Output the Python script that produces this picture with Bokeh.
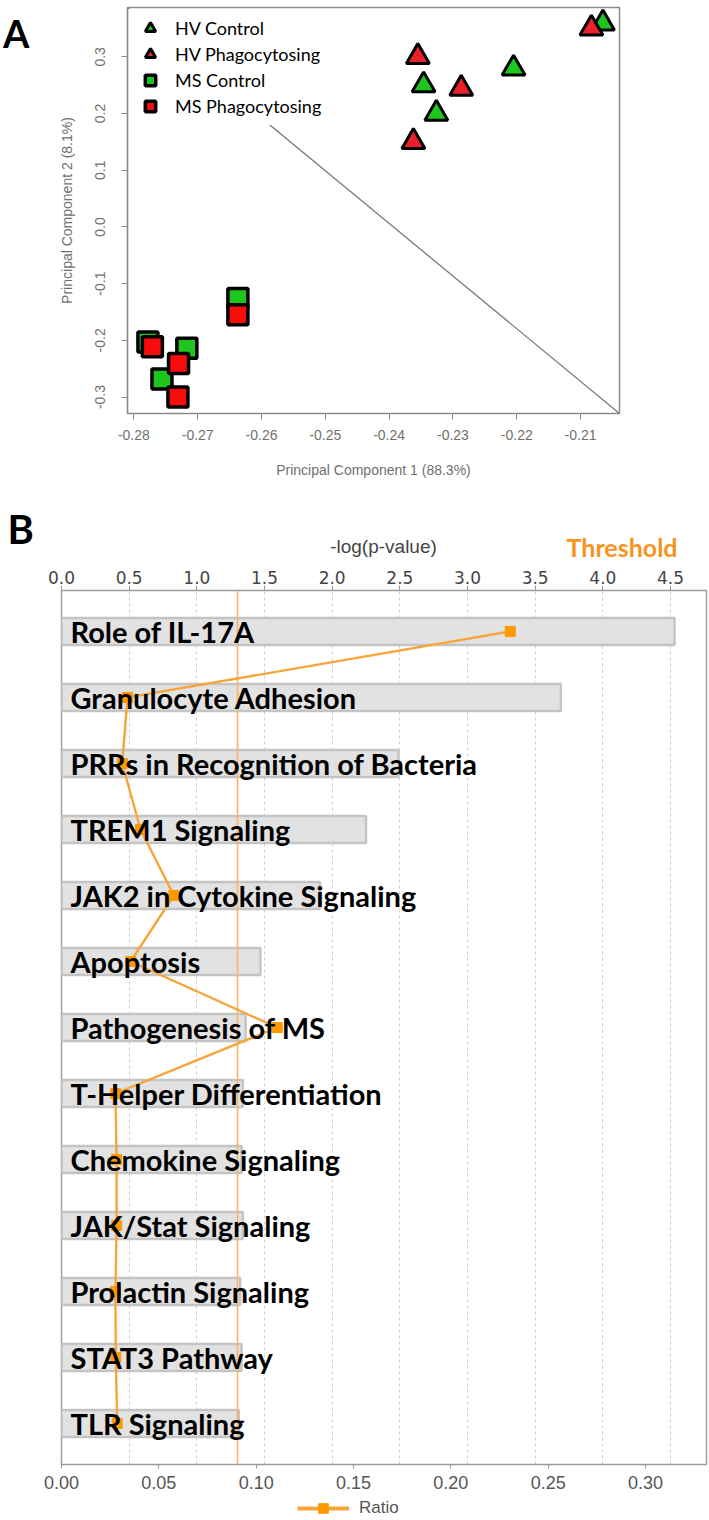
import math
import numpy as np
from bokeh.plotting import figure
from bokeh.models import (Range1d, FactorRange, LinearAxis, SingleIntervalTicker, FixedTicker,
                          NumeralTickFormatter, Legend, LegendItem, Label)
from bokeh.core.properties import value
from bokeh.embed import file_html
from bokeh.resources import INLINE

# ---------------- Panel A data (PCA) ----------------
hv_control_pc1 = [-0.2065, -0.2205, -0.2346, -0.2326]
hv_control_pc2 = [0.359, 0.2795, 0.250, 0.200]
hv_phago_pc1 = [-0.2083, -0.2355, -0.2287, -0.2362]
hv_phago_pc2 = [0.350, 0.300, 0.244, 0.150]
ms_control_pc1 = [-0.2778, -0.2637, -0.2717, -0.2756]
ms_control_pc2 = [-0.203, -0.126, -0.214, -0.268]
ms_phago_pc1 = [-0.2771, -0.2637, -0.2730, -0.2731]
ms_phago_pc2 = [-0.2115, -0.155, -0.241, -0.300]
pc1_limits = [-0.281, -0.2039]
pc2_limits = [-0.329, 0.387]
group_labels = ["HV Control", "HV Phagocytosing", "MS Control", "MS Phagocytosing"]

# ---------------- Panel B data (pathways) ----------------
pathways = ["Role of IL-17A", "Granulocyte Adhesion", "PRRs in Recognition of Bacteria",
            "TREM1 Signaling", "JAK2 in Cytokine Signaling", "Apoptosis",
            "Pathogenesis of MS", "T-Helper Differentiation", "Chemokine Signaling",
            "JAK/Stat Signaling", "Prolactin Signaling", "STAT3 Pathway", "TLR Signaling"]
neg_log_p = [4.53, 3.69, 2.49, 2.25, 1.91, 1.47, 1.36, 1.34, 1.33, 1.34, 1.32, 1.33, 1.31]
ratio = [0.2305, 0.0339, 0.0312, 0.0406, 0.0577, 0.0355, 0.1108, 0.0277, 0.0283,
         0.0283, 0.0277, 0.0279, 0.0286]
p_threshold = 0.05
threshold = -math.log10(p_threshold)
neg_log_p_limits = [0, 4.766]
ratio_limits = [0, 0.3313]

GREEN = "#1DC71D"
RED_TRI = "#E8212B"
RED_SQ = "#F80C0C"
ORANGE = "#F7941E"
RATIO_LINE = "#F6A53A"
RATIO_MARK = "#FF9900"

# ======================= Panel A =======================
pa = figure(width=709, height=495,
            x_range=Range1d(*pc1_limits), y_range=Range1d(*pc2_limits),
            output_backend="svg", toolbar_location=None,
            min_border_left=127, min_border_right=90, min_border_top=7, min_border_bottom=82)
pa.grid.visible = False
pa.outline_line_color = "#8A8A8A"
pa.outline_line_width = 1.5
pa.outline_line_alpha = 1.0

for ax in (pa.xaxis[0], pa.yaxis[0]):
    ax.axis_line_color = "#8A8A8A"
    ax.axis_line_width = 1.2
    ax.major_tick_line_color = "#8A8A8A"
    ax.major_tick_out = 6
    ax.major_tick_in = 0
    ax.minor_tick_line_color = None
    ax.major_label_text_font = "Liberation Sans"
    ax.major_label_text_font_size = "14px"
    ax.major_label_text_color = "#707070"
    ax.axis_label_text_font = "Liberation Sans"
    ax.axis_label_text_font_size = "14px"
    ax.axis_label_text_font_style = "normal"
    ax.axis_label_text_color = "#707070"

pa.xaxis.ticker = SingleIntervalTicker(interval=0.01)
pa.xaxis.formatter = NumeralTickFormatter(format="0.00")
pa.xaxis.axis_label = "Principal Component 1 (88.3%)"
pa.xaxis.major_label_standoff = 10
pa.xaxis.axis_label_standoff = 19

pa.yaxis.ticker = SingleIntervalTicker(interval=0.1)
pa.yaxis.formatter = NumeralTickFormatter(format="0.0")
pa.yaxis.axis_label = "Principal Component 2 (8.1%)"
pa.yaxis.major_label_orientation = "vertical"
pa.yaxis.major_label_standoff = 16
pa.yaxis.axis_label_standoff = 18

# panel letter "A" as a label-only axis further out on the left
panel_a_tick = 0.375
a_axis = LinearAxis(ticker=FixedTicker(ticks=[panel_a_tick]),
                    major_label_overrides={panel_a_tick: "A"},
                    axis_line_color=None, major_tick_line_color=None,
                    minor_tick_line_color=None, major_tick_out=0, major_tick_in=0,
                    major_label_standoff=26, major_label_orientation="horizontal",
                    major_label_text_font="Lato", major_label_text_font_style="bold",
                    major_label_text_font_size="38px", major_label_text_color="black")
pa.add_layout(a_axis, "left")

# diagonal line from corner to corner
pa.line(x=pc1_limits, y=pc2_limits[::-1], line_color="#7A7A7A", line_width=1.3)

r_msc = pa.scatter(ms_control_pc1, ms_control_pc2, marker="square", size=20,
                   fill_color=GREEN, line_color="black", line_width=3.5)
r_msp = pa.scatter(ms_phago_pc1, ms_phago_pc2, marker="square", size=20,
                   fill_color=RED_SQ, line_color="black", line_width=3.5)
r_hvc = pa.scatter(hv_control_pc1, hv_control_pc2, marker="triangle", size=23,
                   fill_color=GREEN, line_color="black", line_width=3)
r_hvp = pa.scatter(hv_phago_pc1, hv_phago_pc2, marker="triangle", size=23,
                   fill_color=RED_TRI, line_color="black", line_width=3)

leg_a = Legend(items=[LegendItem(label=group_labels[0], renderers=[r_hvc]),
                      LegendItem(label=group_labels[1], renderers=[r_hvp]),
                      LegendItem(label=group_labels[2], renderers=[r_msc]),
                      LegendItem(label=group_labels[3], renderers=[r_msp])],
               location="top_left", margin=2, padding=6, spacing=0,
               glyph_width=30, glyph_height=26, label_height=26, label_standoff=10,
               label_text_font="Lato", label_text_font_size="18px", label_text_color="black",
               background_fill_color="white", background_fill_alpha=1.0, border_line_alpha=0)
pa.add_layout(leg_a)

# ======================= Panel B header (texts above the top axis) =======================
HB_H = 68
hb = figure(width=709, height=HB_H, x_range=Range1d(0, 1), y_range=Range1d(0, 1),
            x_axis_location=None, y_axis_location=None,
            output_backend="svg", toolbar_location=None, min_border=0,
            outline_line_color=None)
hb.grid.visible = False
hb.add_layout(Label(x=7, y=HB_H - 9, x_units="screen", y_units="screen", text="B",
                    text_font="Lato", text_font_style="bold", text_font_size="40px",
                    text_baseline="top", text_align="left", text_color="black"))
hb.add_layout(Label(x=383, y=17, x_units="screen", y_units="screen",
                    text="-log(p-value)", text_font="Liberation Sans", text_font_size="19px",
                    text_baseline="middle", text_align="center", text_color="#444444"))
hb.add_layout(Label(x=566, y=17, x_units="screen", y_units="screen",
                    text="Threshold", text_font="Lato", text_font_style="bold",
                    text_font_size="25px", text_baseline="middle", text_align="left",
                    text_color=ORANGE))

# ======================= Panel B =======================
pb = figure(width=709, height=933,
            x_range=Range1d(*neg_log_p_limits),
            y_range=FactorRange(factors=pathways[::-1], range_padding=0.12,
                                range_padding_units="absolute"),
            x_axis_location="above", y_axis_location=None,
            output_backend="svg", toolbar_location=None,
            min_border_left=61, min_border_right=3, min_border_top=27, min_border_bottom=32)
pb.extra_x_ranges = {"ratio": Range1d(*ratio_limits)}
pb.outline_line_color = "#A0A0A0"
pb.outline_line_width = 1.5
pb.outline_line_alpha = 1.0

top = pb.xaxis[0]
top.ticker = SingleIntervalTicker(interval=0.5)
top.formatter = NumeralTickFormatter(format="0.0")
top.major_label_text_font = "DejaVu Sans"
top.major_label_text_font_size = "17px"
top.major_label_text_color = "#444444"
top.major_label_standoff = 2
top.major_tick_out = 5
top.major_tick_in = 0
top.minor_tick_line_color = None
top.axis_line_color = "#999999"
top.major_tick_line_color = "#999999"

bottom = LinearAxis(x_range_name="ratio",
                    ticker=SingleIntervalTicker(interval=0.05),
                    formatter=NumeralTickFormatter(format="0.00"))
bottom.major_label_text_font = "Liberation Sans"
bottom.major_label_text_font_size = "18px"
bottom.major_label_text_color = "#555555"
bottom.major_label_standoff = 7
bottom.major_tick_out = 4
bottom.major_tick_in = 0
bottom.minor_tick_line_color = None
bottom.axis_line_color = "#999999"
bottom.major_tick_line_color = "#999999"
pb.add_layout(bottom, "below")

pb.xgrid.grid_line_color = "#CFCFCF"
pb.xgrid.grid_line_dash = "3 3"
pb.xgrid.grid_line_width = 1
pb.ygrid.visible = False

pb.hbar(y=pathways, left=0, right=neg_log_p, height=0.41,
        fill_color="#E2E2E2", line_color="#C4C4C4", line_width=2.5)
pb.vspan(x=[threshold], line_color="#F9B560", line_width=1.6)
pb.line(x=ratio, y=pathways, x_range_name="ratio", line_color=RATIO_LINE, line_width=2.4)
pb.scatter(x=ratio, y=pathways, x_range_name="ratio", marker="square",
           size=10, fill_color=RATIO_MARK, line_color=RATIO_MARK)
pb.text(x=[0] * len(pathways), y=pathways, text=pathways, x_offset=9,
        text_baseline="middle", text_align="left",
        text_font=value("Lato"), text_font_style="bold", text_font_size="29px",
        text_color="black")

# ======================= Panel B footer (Ratio legend) =======================
FB_H = 24
fb = figure(width=709, height=FB_H, x_range=Range1d(0, 1), y_range=Range1d(0, 1),
            x_axis_location=None, y_axis_location=None,
            output_backend="svg", toolbar_location=None, min_border=0,
            outline_line_color=None)
fb.grid.visible = False
no_point = np.array([np.nan])  # key-only renderers: nothing is drawn in the frame
key_line = fb.line(x=no_point, y=no_point, line_color=RATIO_LINE, line_width=4)
key_mark = fb.scatter(x=no_point, y=no_point, marker="square", fill_color=RATIO_MARK,
                      line_color=RATIO_MARK)
leg_b = Legend(items=[LegendItem(label="Ratio", renderers=[key_line, key_mark])],
               location=(297, 0), orientation="horizontal", margin=0, padding=0,
               glyph_width=52, glyph_height=FB_H, label_height=FB_H, label_standoff=10,
               label_text_font="Liberation Sans", label_text_font_size="17px",
               label_text_color="#555555", border_line_alpha=0, background_fill_alpha=0)
fb.add_layout(leg_b)

open("out.html", "w").write(file_html([pa, hb, pb, fb], INLINE))
